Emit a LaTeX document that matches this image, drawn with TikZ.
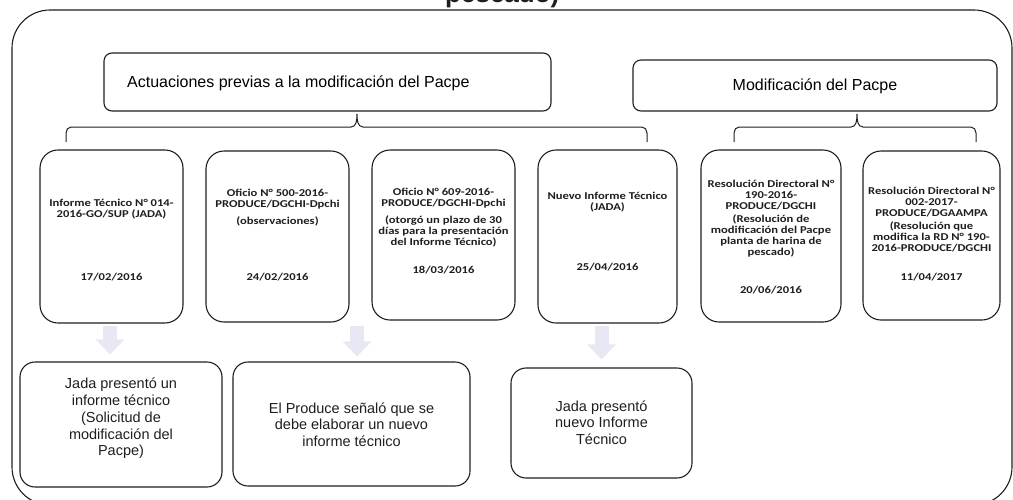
\documentclass[tikz,border=0pt]{standalone}
\usepackage{fontspec}
\setmainfont{Liberation Sans}
\newfontfamily\calb[FakeStretch=1.2]{Carlito}
\usetikzlibrary{arrows.meta,calc}
\definecolor{ink}{RGB}{30,30,30}
\definecolor{fadefill}{RGB}{232,232,244}
\begin{document}
\begin{tikzpicture}[x=1pt,y=-1pt,
  line/.style={draw=ink, line width=1.1pt},
  hdr/.style={line, rounded corners=8pt, inner sep=0pt},
  hdrtxt/.style={font=\fontsize{16}{18}\selectfont, inner sep=0pt},
  midbox/.style={line, rounded corners=18pt, inner sep=0pt},
  midtxt/.style={font=\calb\bfseries\fontsize{10.5}{11}\selectfont, align=center, inner sep=0pt, text=ink},
  botbox/.style={line, rounded corners=15pt, inner sep=0pt},
  bottxt/.style={font=\fontsize{14.5}{16.7}\selectfont, align=center, inner sep=0pt, text=ink},
  fadearrow/.style={draw=fadefill, line width=14pt, -{Triangle[width=28pt,length=15pt]}},
  brace/.style={line, line width=1pt}
]
\useasboundingbox (0,0) rectangle (1013,499);
\clip (0,0) rectangle (1013,499);

% title (cut off at the top edge)
\node[anchor=base west, inner sep=0pt, font=\bfseries\fontsize{26}{30}\selectfont, text=ink] (title) at (445,2) {pescado)};

% outer frame
\draw[line, rounded corners=38pt] (12,505) -- (12,10) -- (1012,10) -- (1012,505) -- cycle;

% header boxes
\node[hdr, minimum width=447, minimum height=58] (hA) at (327.5,82) {};
\node[hdrtxt, anchor=west] (hAt) at (127,83) {Actuaciones previas a la modificación del Pacpe};
\node[hdr, minimum width=364, minimum height=51] (hB) at (815,85.5) {};
\node[hdrtxt] (hBt) at (815,86) {Modificación del Pacpe};

% braces
\coordinate (la) at (66,142);
\coordinate (lp) at (357,114);
\coordinate (lb) at (647,142);
\coordinate (ra) at (734,142);
\coordinate (rp) at (857,114);
\coordinate (rb) at (976,142);
\draw[brace] (la) -- ++(0,-9) to[out=90,in=180] ++(5,-6) -- ($(lp)+(-6,13)$) to[out=0,in=-90] (lp)
  to[out=-90,in=180] ($(lp)+(6,13)$) -- ($(lb)+(-5,-15)$) to[out=0,in=90] ($(lb)+(0,-9)$) -- (lb);
\draw[brace] (ra) -- ++(0,-9) to[out=90,in=180] ++(5,-6) -- ($(rp)+(-6,13)$) to[out=0,in=-90] (rp)
  to[out=-90,in=180] ($(rp)+(6,13)$) -- ($(rb)+(-5,-15)$) to[out=0,in=90] ($(rb)+(0,-9)$) -- (rb);

% middle boxes
\node[midbox, minimum width=143, minimum height=173] (m1) at (111.5,236.5) {};
\node[midbox, minimum width=143, minimum height=171] (m2) at (277.5,236.5) {};
\node[midbox, minimum width=143, minimum height=170] (m3) at (443.5,235) {};
\node[midbox, minimum width=139, minimum height=173] (m4) at (607.5,236.5) {};
\node[midbox, minimum width=140, minimum height=172] (m5) at (771,236) {};
\node[midbox, minimum width=137, minimum height=169] (m6) at (931.5,235.5) {};

\node[midtxt] (m1t) at (111.5,209) {Informe Técnico N° 014-\\2016-GO/SUP (JADA)};
\node[midtxt] (m1d) at (111.5,277) {17/02/2016};
\node[midtxt] (m2t) at (277.5,208) {Oficio N° 500-2016-\\PRODUCE/DGCHI-Dpchi\\[6pt](observaciones)};
\node[midtxt] (m2d) at (277.5,277) {24/02/2016};
\node[midtxt] (m3t) at (443.5,217.5) {Oficio N° 609-2016-\\PRODUCE/DGCHI-Dpchi\\[6pt](otorgó un plazo de 30\\días para la presentación\\del Informe Técnico)};
\node[midtxt] (m3d) at (443.5,270) {18/03/2016};
\node[midtxt] (m4t) at (607.5,202) {Nuevo Informe Técnico\\(JADA)};
\node[midtxt] (m4d) at (607.5,267) {25/04/2016};
\node[midtxt] (m5t) at (771,218.5) {Resolución Directoral N°\\190-2016-\\PRODUCE/DGCHI\\[2pt](Resolución de\\modificación del Pacpe\\planta de harina de\\pescado)};
\node[midtxt] (m5d) at (771,290) {20/06/2016};
\node[midtxt] (m6t) at (931.5,219.5) {Resolución Directoral N°\\002-2017-\\PRODUCE/DGAAMPA\\[2pt](Resolución que\\modifica la RD N° 190-\\2016-PRODUCE/DGCHI};
\node[midtxt] (m6d) at (931.5,277) {11/04/2017};

% bottom boxes
\node[botbox, minimum width=202, minimum height=125] (b1) at (121,424.5) {};
\node[botbox, minimum width=237, minimum height=124] (b2) at (351.5,424) {};
\node[botbox, minimum width=181, minimum height=110] (b3) at (601.5,423) {};
\node[bottxt] (b1t) at (121,418.5) {Jada presentó un\\informe técnico\\(Solicitud de\\modificación del\\Pacpe)};
\node[bottxt] (b2t) at (351.5,424.5) {El Produce señaló que se\\debe elaborar un nuevo\\informe técnico};
\node[bottxt] (b3t) at (601.5,422.5) {Jada presentó\\nuevo Informe\\Técnico};

% faint arrows
\coordinate (a1) at (110,323);
\coordinate (a2) at (357,323);
\draw[fadearrow, shorten <=3pt, shorten >=7pt] (a1) -- (a1 |- b1.north);
\draw[fadearrow, shorten <=3pt, shorten >=5pt] (a2) -- (a2 |- b2.north);
\draw[fadearrow, shorten <=2pt, shorten >=8pt] (b3.north |- m4.south) -- (b3.north);
\end{tikzpicture}
\end{document}
